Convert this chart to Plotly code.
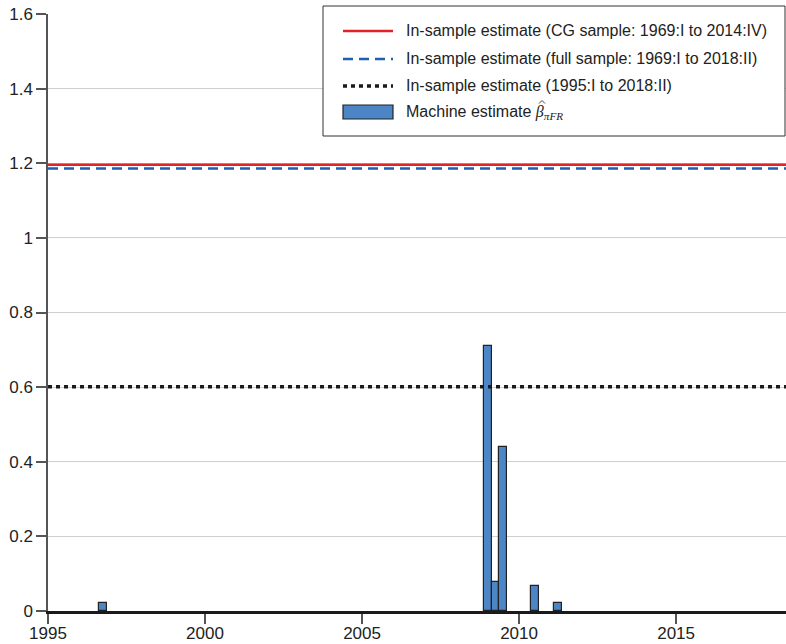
import plotly.graph_objects as go

# Data
bar_dates = [1996.75, 2009.0, 2009.25, 2009.5, 2010.5, 2011.25]
bar_values = [0.021, 0.709, 0.079, 0.440, 0.067, 0.022]
cg_estimate = 1.196
full_estimate = 1.186
recent_estimate = 0.601
x_span = [1995, 2018.5]
legend_labels = [
    "In-sample estimate (CG sample: 1969:I to 2014:IV)",
    "In-sample estimate (full sample: 1969:I to 2018:II)",
    "In-sample estimate (1995:I to 2018:II)",
    "Machine estimate <span style='font-family:Liberation Serif'><i>β</i><sub><i>πFR</i></sub></span>",
]

RED = "#e3212b"
BLUE = "#1e5fae"
BLACK = "#1a1a1a"
BARC = "#4c86c6"
FONT = "Liberation Sans, Arial, Helvetica"

fig = go.Figure()
fig.add_trace(go.Bar(x=bar_dates, y=bar_values, width=0.25,
                     marker=dict(color=BARC, line=dict(color="#222", width=1.2)),
                     showlegend=False))
fig.add_trace(go.Scatter(x=x_span, y=[cg_estimate]*2, mode="lines",
                         line=dict(color=RED, width=2.5), showlegend=False))
fig.add_trace(go.Scatter(x=x_span, y=[full_estimate]*2, mode="lines",
                         line=dict(color=BLUE, width=2.5, dash="10px,6px"), showlegend=False))
fig.add_trace(go.Scatter(x=x_span, y=[recent_estimate]*2, mode="lines",
                         line=dict(color=BLACK, width=3.5, dash="4px,4px"), showlegend=False))

# plot area in screen pixels
W, H = 786, 644
L, R, T, B = 48, 786, 14, 611
def px(xp):
    return (xp - L) / (R - L)
def py(yp):
    return (B - yp) / (B - T)

shapes = []
annotations = []
# legend box
shapes.append(dict(type="rect", xref="paper", yref="paper", x0=px(323), x1=px(785),
                   y0=py(136), y1=py(6), fillcolor="white",
                   line=dict(color="#333", width=1), layer="above"))
ys = [31, 59, 86, 112]
styles = [dict(color=RED, width=2.5), dict(color=BLUE, width=2.5, dash="10px,6px"),
          dict(color=BLACK, width=3.5, dash="4px,4px")]
for i in range(3):
    shapes.append(dict(type="line", xref="paper", yref="paper", x0=px(343), x1=px(393),
                       y0=py(ys[i]), y1=py(ys[i]), line=styles[i], layer="above"))
shapes.append(dict(type="rect", xref="paper", yref="paper", x0=px(343), x1=px(393),
                   y0=py(119), y1=py(105), fillcolor=BARC,
                   line=dict(color="#222", width=1.2), layer="above"))
for i, lab in enumerate(legend_labels):
    annotations.append(dict(xref="paper", yref="paper", x=px(404), y=py(ys[i]),
                            text=lab, showarrow=False, xanchor="left", yanchor="middle",
                            font=dict(size=16, color="#222", family=FONT)))
# hat over beta (small chevron)
hx0, hx1, hx2 = px(539), px(542), px(545)
hy0, hy1 = py(103.5), py(100.5)
shapes.append(dict(type="path", xref="paper", yref="paper",
                   path=f"M {hx0},{hy0} L {hx1},{hy1} L {hx2},{hy0}",
                   line=dict(color="#444", width=1), layer="above"))

fig.update_layout(
    width=W, height=H,
    margin=dict(l=L, r=W - R, t=T, b=H - B),
    plot_bgcolor="white", paper_bgcolor="white",
    font=dict(family=FONT, size=17, color="#222"),
    shapes=shapes, annotations=annotations,
    bargap=0,
    xaxis=dict(range=x_span, tickvals=[1995, 2000, 2005, 2010, 2015], showgrid=False,
               zeroline=False, showline=True, linecolor="#1a1a1a", linewidth=2.5,
               ticks="outside", ticklen=10, tickcolor="#555", tickwidth=2,
               ticklabelstandoff=-5, automargin=False),
    yaxis=dict(range=[0, 1.6], tickvals=[0, 0.2, 0.4, 0.6, 0.8, 1, 1.2, 1.4, 1.6],
               showgrid=True, gridcolor="#cfcfcf", gridwidth=1, zeroline=False,
               showline=True, linecolor="#555", linewidth=1.5,
               ticks="outside", ticklen=10, tickcolor="#555", tickwidth=1.5,
               automargin=False),
)
fig.write_html("out.html", config={"displayModeBar": False},
               post_script="document.body.style.margin='0';document.body.style.overflow='hidden';")
